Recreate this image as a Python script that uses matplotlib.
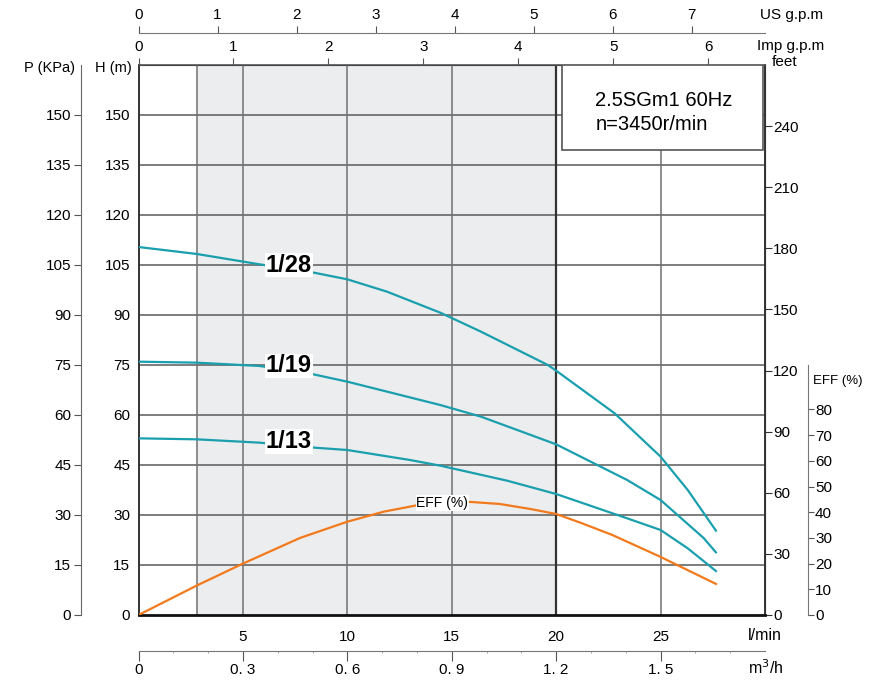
import matplotlib
matplotlib.use("Agg")
import matplotlib.pyplot as plt
from matplotlib.patches import Rectangle
import numpy as np

plt.rcParams['font.family'] = ['Liberation Sans', 'DejaVu Sans']

# flow in l/min, head in m
q_28 = [0, 2.8, 5.8, 8.4, 10, 11.9, 14.45, 16.4, 19.6, 20, 22.8, 25, 26.3, 27.65]
h_28 = [110.4, 108.3, 105.2, 102.7, 100.7, 97.0, 90.7, 85.0, 75.0, 73.3, 60.5, 47.5, 37.5, 25.3]

q_19 = [0, 2.8, 5.8, 8.3, 10, 14.45, 16.4, 20, 23.4, 25, 27.06, 27.65]
h_19 = [76.0, 75.7, 74.7, 72.3, 70.0, 63.0, 59.5, 51.2, 40.5, 34.5, 23.1, 18.8]

q_13 = [0, 2.8, 5.8, 8.2, 10, 13, 14.45, 17.65, 20, 23.4, 25, 26.3, 27.65]
h_13 = [53.0, 52.7, 51.7, 50.3, 49.5, 46.5, 44.8, 40.3, 36.3, 29.0, 25.5, 20.0, 13.2]

# efficiency %
q_eff = [0, 2.8, 5, 7.74, 10, 11.74, 13.4, 15.9, 17.3, 18.8, 20, 21.2, 22.7, 25, 27.65]
eff = [0, 11.5, 20.0, 30.0, 36.3, 40.2, 42.8, 44.0, 43.2, 41.2, 39.3, 35.8, 31.1, 22.6, 12.1]

h_ticks = list(range(0, 151, 15))
lmin_ticks = [5, 10, 15, 20, 25]
imp_ticks = [0, 1, 2, 3, 4, 5, 6]
us_ticks = [0, 1, 2, 3, 4, 5, 6, 7]
m3h_ticks = [0, 0.3, 0.6, 0.9, 1.2, 1.5]
m3h_labels = ["0", "0. 3", "0. 6", "0. 9", "1. 2", "1. 5"]
feet_ticks = list(range(0, 241, 30))
eff_ticks = list(range(0, 81, 10))

W, H = 875, 683
teal = '#1a9fae'
orange = '#f27a1c'
grid_c = '#5a5a5a'

fig = plt.figure(figsize=(W / 100, H / 100), dpi=100)
x0, x1, y0, y1 = 138.5, 765, 65, 615
ax = fig.add_axes([x0 / W, 1 - y1 / H, (x1 - x0) / W, (y1 - y0) / H])
ax.set_xlim(0, 30)
ax.set_ylim(0, 165)

ax.axvspan(2.8, 20, color='#ecedee', zorder=0, lw=0)
for h in h_ticks[1:]:
    ax.axhline(h, color=grid_c, lw=1.1, zorder=1)
for q in [2.8, 5, 10, 15, 25]:
    ax.axvline(q, color='#707070', lw=1.1, zorder=1)
ax.axvline(20, color='#333333', lw=1.6, zorder=1)

ax.plot(q_28, h_28, color=teal, lw=1.6, zorder=3)
ax.plot(q_19, h_19, color=teal, lw=1.6, zorder=3)
ax.plot(q_13, h_13, color=teal, lw=1.6, zorder=3)

for txt, yy in [("1/28", 105), ("1/19", 74.7), ("1/13", 52)]:
    ax.text(7.2, yy, txt, fontsize=17, fontweight='bold', ha='center', va='center', zorder=6,
            bbox=dict(facecolor='white', edgecolor='none', pad=0.5))

ax.set_yticks(h_ticks)
ax.set_xticks(lmin_ticks)
ax.tick_params(axis='both', length=0, labelsize=11)
ax.tick_params(axis='y', pad=6)
ax.tick_params(axis='x', pad=11)

ax.spines['bottom'].set_linewidth(2)
ax.spines['bottom'].set_color('#111111')
ax.spines['left'].set_linewidth(1.4)
ax.spines['left'].set_color('#333333')
ax.spines['top'].set_color('#555555')
ax.spines['top'].set_linewidth(1.2)
ax.spines['right'].set_color('#333333')
ax.spines['right'].set_linewidth(1.4)

# model box
ax.add_patch(Rectangle((0.676, 0.845), 0.321, 0.155, transform=ax.transAxes,
                       facecolor='white', edgecolor='#555555', lw=1.2, zorder=5))
ax.text(0.729, 0.936, "2.5SGm1 60Hz", transform=ax.transAxes, fontsize=14.5, va='center', zorder=6)
ax.text(0.729, 0.891, "n=3450r/min", transform=ax.transAxes, fontsize=14.5, va='center', zorder=6)

# efficiency on its own scale
ax_e = ax.twinx()
ax_e.set_ylim(0, (y1 - y0) / 2.57)
ax_e.axis('off')
ax_e.plot(q_eff, eff, color=orange, lw=1.6, zorder=3)
ax_e.text(14.55, 43.6, "EFF (%)", fontsize=10, ha='center', va='center', zorder=6,
          bbox=dict(facecolor='white', edgecolor='none', pad=0.5))

# top flow scales
imp = ax.secondary_xaxis('top', functions=(lambda x: x / 4.546, lambda x: x * 4.546))
imp.set_xticks(imp_ticks)
imp.tick_params(direction='out', length=5, pad=3, labelsize=11, color='#555555')

us = ax.secondary_xaxis((y1 - 33) / (y1 - y0), functions=(lambda x: x / 3.785, lambda x: x * 3.785))
us.set_xticks(us_ticks)
us.tick_params(direction='out', length=5, pad=3, labelsize=11, color='#555555')
for s in us.spines.values():
    s.set_color('#777777')

m3 = ax.secondary_xaxis(-(651 - y1) / (y1 - y0), functions=(lambda x: x * 0.06, lambda x: x / 0.06))
m3.set_xticks(m3h_ticks, m3h_labels)
m3.set_xticks(np.arange(0, 1.75, 0.1), minor=True)
m3.tick_params(direction='out', length=7, pad=2, labelsize=11, color='#555555')
m3.tick_params(which='minor', length=1.5, color='#999999')
for s in m3.spines.values():
    s.set_color('#777777')

# pressure and feet scales
p_ax = ax.secondary_yaxis(-(x0 - 81) / (x1 - x0))
p_ax.set_yticks(h_ticks)
p_ax.tick_params(direction='out', length=5, pad=2, labelsize=11, color='#555555')
for s in p_ax.spines.values():
    s.set_color('#666666')

ft = ax.secondary_yaxis('right', functions=(lambda m: m * 270 / 165, lambda f: f * 165 / 270))
ft.set_yticks(feet_ticks)
ft.tick_params(direction='out', length=5, pad=1, labelsize=11, color='#333333')

ax_s = fig.add_axes([808 / W, 1 - y1 / H, 0.0001, (y1 - 365) / H])
ax_s.set_ylim(0, (y1 - 365) / 2.57)
ax_s.set_xticks([])
ax_s.set_yticks(eff_ticks)
for k in ['top', 'bottom', 'left']:
    ax_s.spines[k].set_visible(False)
ax_s.spines['right'].set_color('#777777')
ax_s.yaxis.tick_right()
ax_s.tick_params(direction='out', length=4, pad=1, labelsize=11, color='#555555')

# axis names
fig.text(760 / W, 1 - 15 / H, "US g.p.m", fontsize=11, va='center')
fig.text(757 / W, 1 - 46 / H, "Imp g.p.m", fontsize=11, va='center')
fig.text(772 / W, 1 - 62 / H, "feet", fontsize=11, va='center')
fig.text(75 / W, 1 - 68 / H, "P (KPa)", fontsize=10.5, va='center', ha='right')
fig.text(132 / W, 1 - 68 / H, "H (m)", fontsize=10.5, va='center', ha='right')
fig.text(748 / W, 1 - 636 / H, "l/min", fontsize=11.5, va='center')
fig.text(748 / W, 1 - 668 / H, "m$^3$/h", fontsize=11.5, va='center')
fig.text(813 / W, 1 - 381 / H, "EFF (%)", fontsize=9.5, va='center')

fig.savefig("out.png", dpi=100)
